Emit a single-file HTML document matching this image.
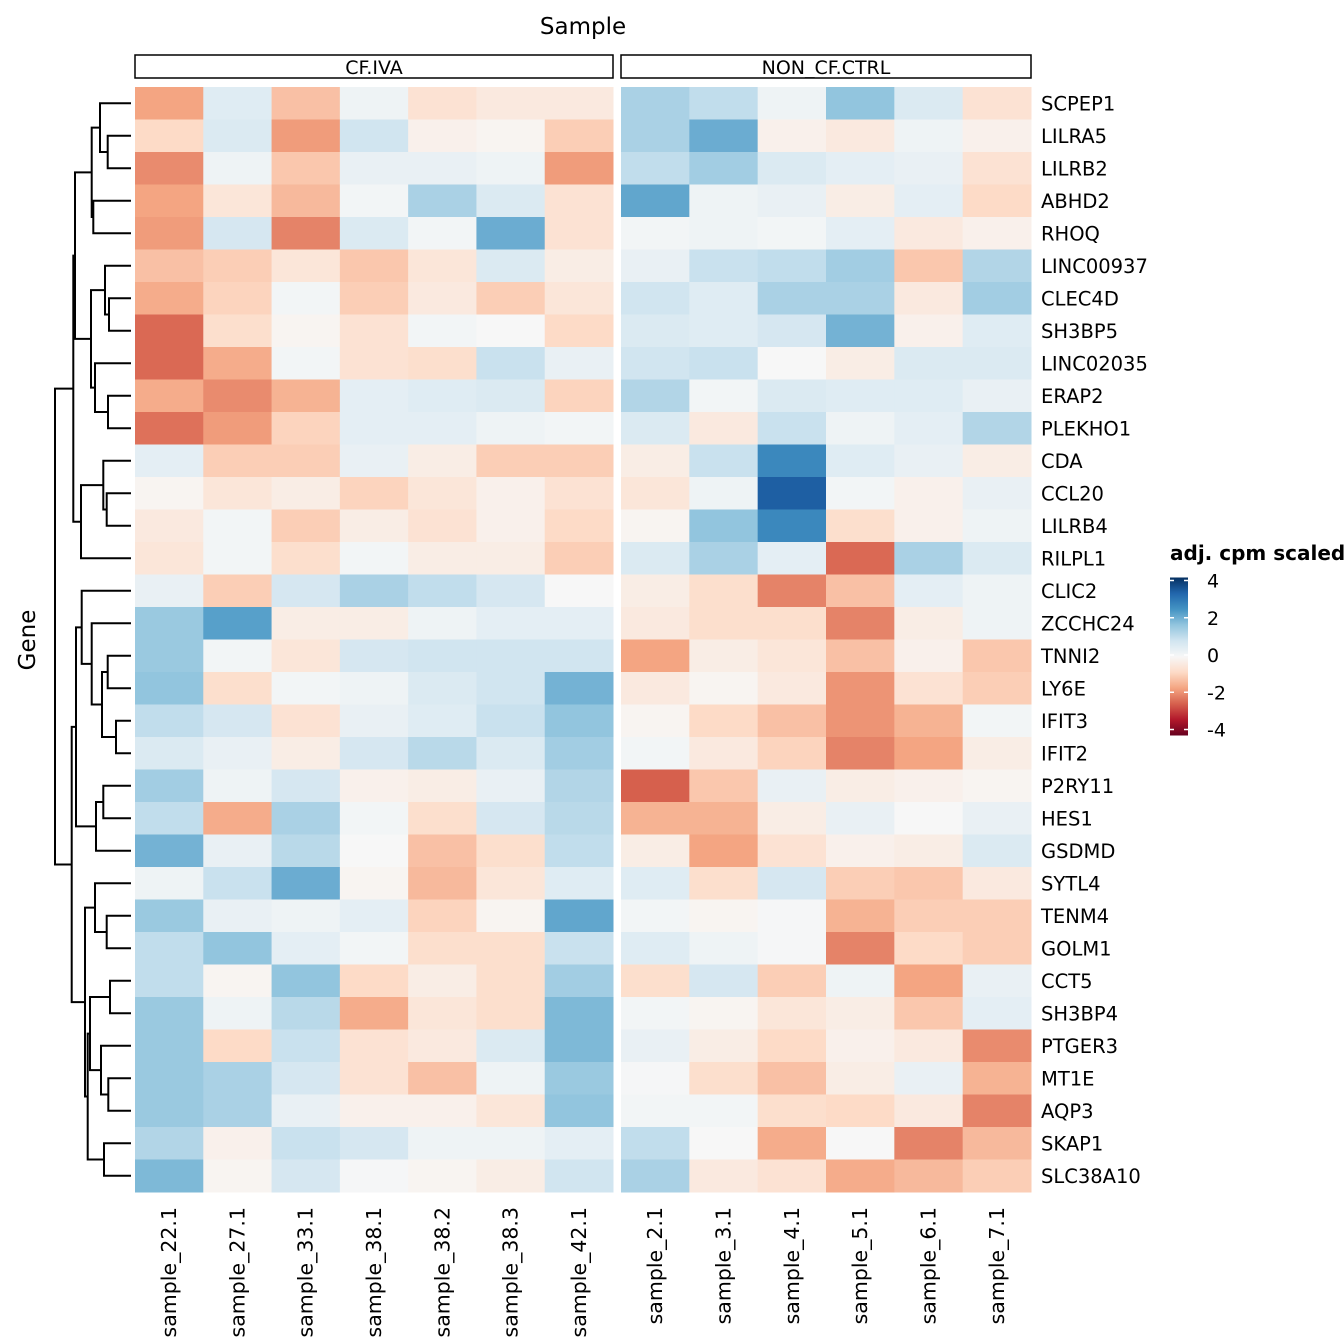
<!DOCTYPE html>
<html><head><meta charset="utf-8"><style>
body{margin:0;background:#fff;}
svg{display:block;font-family:"DejaVu Sans","Liberation Sans",sans-serif;}
</style></head><body>
<svg id="chart" width="1344" height="1344" viewBox="0 0 1344 1344"></svg>
<script>
const genes=["SCPEP1","LILRA5","LILRB2","ABHD2","RHOQ","LINC00937","CLEC4D","SH3BP5","LINC02035","ERAP2","PLEKHO1","CDA","CCL20","LILRB4","RILPL1","CLIC2","ZCCHC24","TNNI2","LY6E","IFIT3","IFIT2","P2RY11","HES1","GSDMD","SYTL4","TENM4","GOLM1","CCT5","SH3BP4","PTGER3","MT1E","AQP3","SKAP1","SLC38A10"];
const samplesCF=["sample_22.1","sample_27.1","sample_33.1","sample_38.1","sample_38.2","sample_38.3","sample_42.1"];
const samplesCtrl=["sample_2.1","sample_3.1","sample_4.1","sample_5.1","sample_6.1","sample_7.1"];
const valuesCF=[
[-1.6,0.5,-1.2,0.2,-0.6,-0.4,-0.4],
[-0.8,0.6,-1.7,0.8,-0.2,-0.1,-1.0],
[-1.9,0.2,-1.1,0.3,0.3,0.2,-1.7],
[-1.6,-0.5,-1.3,0.1,1.3,0.6,-0.6],
[-1.7,0.7,-2.0,0.6,0.1,2.0,-0.6],
[-1.2,-1.0,-0.5,-1.1,-0.5,0.6,-0.3],
[-1.5,-0.9,0.1,-1.0,-0.4,-1.0,-0.5],
[-2.3,-0.7,-0.1,-0.6,0.1,0,-0.8],
[-2.3,-1.5,0.1,-0.6,-0.7,0.9,0.3],
[-1.5,-1.9,-1.4,0.4,0.5,0.6,-0.9],
[-2.2,-1.7,-0.9,0.4,0.4,0.2,0.1],
[0.4,-1.0,-1.0,0.3,-0.3,-1.0,-1.0],
[-0.1,-0.5,-0.3,-0.9,-0.5,-0.2,-0.6],
[-0.4,0.1,-1.0,-0.3,-0.6,-0.2,-0.8],
[-0.5,0.1,-0.7,0.1,-0.3,-0.3,-1.0],
[0.3,-1.0,0.7,1.3,1.0,0.7,0],
[1.5,2.2,-0.3,-0.3,0.2,0.4,0.4],
[1.5,0.1,-0.5,0.7,0.8,0.8,0.8],
[1.6,-0.7,0.1,0.2,0.6,0.8,1.9],
[1.0,0.7,-0.6,0.3,0.5,0.9,1.6],
[0.6,0.3,-0.3,0.7,1.1,0.6,1.4],
[1.4,0.2,0.7,-0.2,-0.3,0.3,1.2],
[1.0,-1.5,1.3,0.1,-0.7,0.7,1.1],
[1.9,0.3,1.1,0,-1.2,-0.7,1.0],
[0.2,0.9,2.0,-0.1,-1.3,-0.5,0.5],
[1.5,0.3,0.2,0.4,-0.9,-0.1,2.1],
[1.0,1.6,0.4,0.1,-0.7,-0.7,0.9],
[1.0,-0.1,1.6,-0.8,-0.3,-0.7,1.4],
[1.5,0.2,1.1,-1.5,-0.5,-0.7,1.8],
[1.5,-0.8,0.9,-0.6,-0.4,0.6,1.8],
[1.5,1.3,0.7,-0.6,-1.2,0.2,1.5],
[1.5,1.3,0.3,-0.2,-0.2,-0.5,1.6],
[1.2,-0.2,0.9,0.7,0.2,0.2,0.4],
[1.8,-0.1,0.7,0.05,-0.1,-0.3,0.8]];
const valuesCtrl=[
[1.3,1.0,0.2,1.6,0.6,-0.6],
[1.3,2.0,-0.2,-0.4,0.2,-0.2],
[1.0,1.4,0.6,0.4,0.3,-0.6],
[2.1,0.2,0.3,-0.3,0.4,-0.8],
[0.1,0.2,0.1,0.4,-0.4,-0.2],
[0.3,0.9,1.0,1.4,-1.1,1.2],
[0.8,0.5,1.3,1.3,-0.4,1.4],
[0.6,0.5,0.7,1.9,-0.2,0.5],
[0.8,0.9,0,-0.3,0.6,0.6],
[1.2,0.1,0.6,0.5,0.5,0.3],
[0.6,-0.4,0.9,0.2,0.4,1.2],
[-0.3,0.9,2.6,0.5,0.3,-0.3],
[-0.5,0.2,3.3,0.1,-0.2,0.3],
[-0.1,1.6,2.6,-0.7,-0.2,0.2],
[0.6,1.3,0.4,-2.3,1.3,0.6],
[-0.3,-0.7,-2.0,-1.2,0.4,0.2],
[-0.4,-0.7,-0.7,-2.0,-0.3,0.2],
[-1.6,-0.3,-0.5,-1.2,-0.2,-1.1],
[-0.4,-0.1,-0.4,-1.8,-0.6,-1.0],
[-0.1,-0.8,-1.2,-1.8,-1.4,0.1],
[0.1,-0.4,-0.9,-2.0,-1.6,-0.3],
[-2.4,-1.1,0.3,-0.3,-0.2,-0.1],
[-1.4,-1.4,-0.3,0.3,0,0.3],
[-0.3,-1.6,-0.6,-0.2,-0.3,0.6],
[0.5,-0.7,0.7,-1.0,-1.1,-0.4],
[0.1,-0.1,0.05,-1.4,-1.0,-1.0],
[0.5,0.2,0.05,-2.0,-0.8,-1.0],
[-0.7,0.7,-1.0,0.2,-1.6,0.3],
[0.1,-0.1,-0.5,-0.3,-1.1,0.4],
[0.3,-0.3,-0.8,-0.2,-0.4,-1.9],
[0.05,-0.7,-1.2,-0.3,0.3,-1.4],
[0.1,0.1,-0.7,-0.8,-0.4,-2.0],
[1.0,0,-1.5,0,-2.0,-1.3],
[1.3,-0.4,-0.6,-1.5,-1.3,-1.0]];
const legendTicks=[4,2,0,-2,-4];
// dendrogram: [height-x, left, right]
const tree=[55,
 [73.3,[75,[91.7,[100,0,[107.7,1,2]],[93.3,3,4]],[91,[105,5,[109,6,7]],[95,8,[108,9,10]]]],[81,[103.3,11,[106.7,12,13]],14]],
 [71.7,[76,[81.7,15,[91.7,16,[102,[107.7,17,18],[116,19,20]]]],[96,[103.3,21,22],23]],
  [85,[95,24,[106.7,25,26]],[87.7,[90,[110,27,28],[101,29,[108.3,30,31]]],[104,32,33]]]]];

const NS="http://www.w3.org/2000/svg";
const svg=document.getElementById('chart');
function mk(tag,attrs,parent){const e=document.createElementNS(NS,tag);for(const k in attrs)e.setAttribute(k,attrs[k]);(parent||svg).appendChild(e);return e;}
const stops=[[-4,[103,0,31]],[-3.2,[178,24,43]],[-2.4,[214,96,77]],[-1.6,[244,165,130]],[-0.8,[253,219,199]],[0,[247,247,247]],[0.8,[209,229,240]],[1.6,[146,197,222]],[2.4,[67,147,195]],[3.2,[33,102,172]],[4,[5,48,97]]];
function color(v){v=Math.max(-4,Math.min(4,v));for(let i=0;i<stops.length-1;i++){const a=stops[i],b=stops[i+1];if(v<=b[0]){const t=(v-a[0])/(b[0]-a[0]);const c=a[1].map((x,j)=>Math.round(x+(b[1][j]-x)*t));return `rgb(${c})`;}}return 'rgb(5,48,97)';}
const top0=87,rowH=(1192-87)/genes.length;
const panels=[{x0:135,x1:613,s:samplesCF,v:valuesCF,label:"CF.IVA",name:"cf-iva"},{x0:621,x1:1031,s:samplesCtrl,v:valuesCtrl,label:"NON_CF.CTRL",name:"non-cf-ctrl"}];
const yOf=i=>top0+rowH*(i+0.5);
panels.forEach(p=>{
  const g=mk('g',{});
  
  
  const cw=(p.x1-p.x0)/p.s.length;
  p.v.forEach((row,i)=>row.forEach((val,j)=>{
    const r=mk('rect',{x:p.x0+cw*j,y:top0+rowH*i,width:cw+0.5,height:rowH+0.5,fill:color(val)},g);
    
    
  }));
  const st=mk('rect',{x:p.x0,y:55,width:p.x1-p.x0,height:23,fill:'#fff',stroke:'#000','stroke-width':1.5});
  
  
  const tt=mk('text',{x:(p.x0+p.x1)/2,y:74,'text-anchor':'middle','font-size':19});
  tt.textContent=p.label;
  
  
  p.s.forEach((s,j)=>{
    const cx=p.x0+cw*(j+0.5);
    const t=mk('text',{transform:`translate(${cx+7},1207) rotate(-90)`,'text-anchor':'end','font-size':20.5});
    t.textContent=s;
    
    
  });
});
genes.forEach((gname,i)=>{
  const t=mk('text',{x:1041,y:yOf(i)+7,'font-size':19.5});
  t.textContent=gname;
  
  
});
const dg=mk('g',{stroke:'#000','stroke-width':2,fill:'none'});


const leafX=131;
function draw(n){
  if(typeof n==='number')return {x:leafX,y:yOf(n)};
  const a=draw(n[1]),b=draw(n[2]),x=n[0];
  mk('path',{d:`M${a.x},${a.y}H${x}V${b.y}H${b.x}`},dg);
  return {x:x,y:(a.y+b.y)/2};
}
const r=draw(tree);
let t=mk('text',{x:583,y:34,'text-anchor':'middle','font-size':23});t.textContent='Sample';

t=mk('text',{transform:'translate(35,640) rotate(-90)','text-anchor':'middle','font-size':23});t.textContent='Gene';

const lg=mk('g',{});


t=mk('text',{x:1170,y:560,'font-size':20,'font-weight':'bold'},lg);t.textContent='adj. cpm scaled';

const defs=mk('defs',{});
const grad=mk('linearGradient',{id:'lgrad',x1:0,y1:0,x2:0,y2:1},defs);
stops.slice().reverse().forEach((s,k)=>mk('stop',{offset:(k/(stops.length-1)),'stop-color':`rgb(${s[1]})`},grad));
const ly=v=>655-(v/4)*74.5;
const barTop=ly(4)-3,barBot=ly(-4)+6;
const bar=mk('rect',{x:1170,y:barTop,width:18,height:barBot-barTop,fill:'url(#lgrad)'},lg);

legendTicks.forEach(v=>{
  const y=ly(v);
  mk('path',{d:`M1170,${y}h4M1184,${y}h4`,stroke:'#fff','stroke-width':1.5},lg);
  const tx=mk('text',{x:1207,y:y+7,'font-size':19},lg);tx.textContent=String(v);
  
});
</script>
</body></html>
